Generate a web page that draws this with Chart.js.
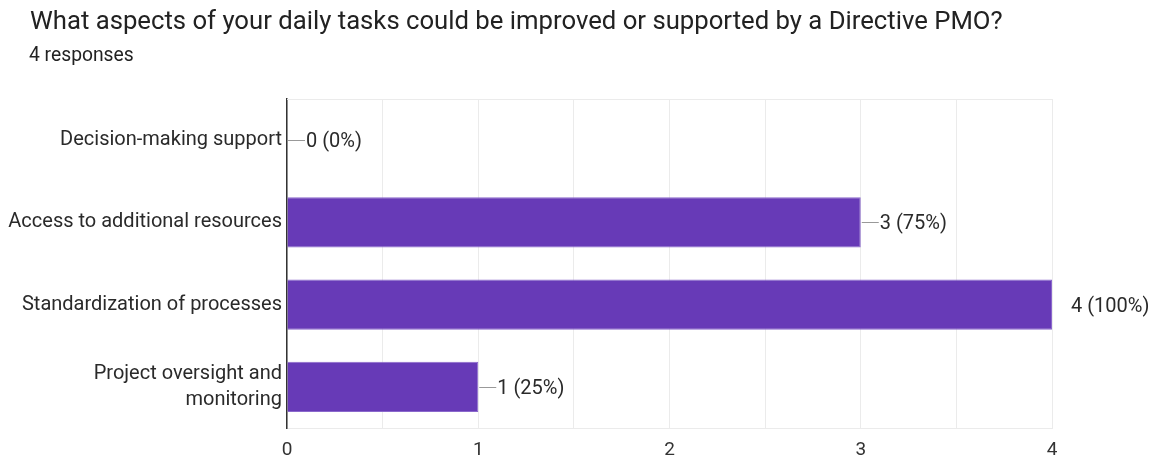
<!DOCTYPE html>
<html>
<head>
<meta charset="utf-8">
<script src="https://cdn.jsdelivr.net/npm/chart.js@4.4.1/dist/chart.umd.min.js"></script>
<style>
  html, body { margin: 0; padding: 0; background: #fff; }
  #wrap { position: relative; width: 1160px; height: 460px; font-family: Roboto, sans-serif; }
  #title { position: absolute; left: 30px; top: 8px; font-size: 25.7px; line-height: 1; color: #222; white-space: nowrap; }
  #sub { position: absolute; left: 29px; top: 45px; font-size: 19.3px; line-height: 1; color: #222; }
  canvas { position: absolute; left: 0; top: 0; }
</style>
</head>
<body>
<div id="wrap">
  <canvas id="chart" width="1160" height="460"></canvas>
  <div id="title">What aspects of your daily tasks could be improved or supported by a Directive PMO?</div>
  <div id="sub">4 responses</div>
</div>
<script>
const responses = 4;
const categories = [
  'Decision-making support',
  'Access to additional resources',
  'Standardization of processes',
  ['Project oversight and', 'monitoring']
];
const counts = [0, 3, 4, 1];
const xTicks = [0, 1, 2, 3, 4];

// leader line + "n (p%)" after each bar, and the thin frame line on top
const barLabels = {
  id: 'barLabels',
  beforeDatasetsDraw(chart) {
    const { ctx, chartArea: a } = chart;
    ctx.save();
    ctx.strokeStyle = '#ebebeb';
    ctx.lineWidth = 1;
    ctx.beginPath();
    ctx.moveTo(a.left, a.top + 0.5);
    ctx.lineTo(a.right, a.top + 0.5);
    ctx.stroke();
    ctx.restore();
  },
  afterDatasetsDraw(chart) {
    const { ctx } = chart;
    const xs = chart.scales.x;
    const meta = chart.getDatasetMeta(0);
    ctx.save();
    ctx.font = '20px Roboto';
    ctx.textBaseline = 'middle';
    ctx.fillStyle = '#2a2a2a';
    meta.data.forEach((bar, i) => {
      const v = counts[i];
      const x = bar.x, y = Math.round(bar.y) + 0.5;
      if (v < xs.max) {
        ctx.strokeStyle = '#999';
        ctx.lineWidth = 1;
        ctx.beginPath();
        ctx.moveTo(x + 1, y);
        ctx.lineTo(x + 18, y);
        ctx.stroke();
      }
      ctx.fillText(`${v} (${Math.round(v / responses * 100)}%)`, x + 19, y + 1);
    });
    ctx.restore();
  }
};

new Chart(document.getElementById('chart'), {
  type: 'bar',
  data: {
    labels: categories,
    datasets: [{
      data: counts,
      backgroundColor: '#673ab7',
      borderColor: '#8a68cc',
      borderWidth: 1,
      borderSkipped: 'start',
      categoryPercentage: 1,
      barPercentage: 0.61
    }]
  },
  options: {
    indexAxis: 'y',
    responsive: false,
    animation: false,
    layout: { padding: { top: 99, right: 108, bottom: 0, left: 0 } },
    plugins: { legend: { display: false }, tooltip: { enabled: false } },
    scales: {
      x: {
        min: xTicks[0],
        max: xTicks[xTicks.length - 1],
        afterFit: s => { s.height = 32; },
        ticks: {
          stepSize: 0.5,
          padding: 11,
          color: '#333',
          font: { family: 'Roboto', size: 19 },
          callback: v => xTicks.includes(v) ? v : ''
        },
        grid: { color: '#ebebeb', drawTicks: false },
        border: { color: '#ebebeb' }
      },
      y: {
        afterFit: s => { s.width = 287; },
        ticks: {
          padding: 5,
          color: '#2a2a2a',
          font: { family: 'Roboto', size: 20, lineHeight: 1.3 }
        },
        grid: { display: false, drawTicks: false },
        border: { color: '#333', width: 1.5 }
      }
    }
  },
  plugins: [barLabels]
});
</script>
</body>
</html>
